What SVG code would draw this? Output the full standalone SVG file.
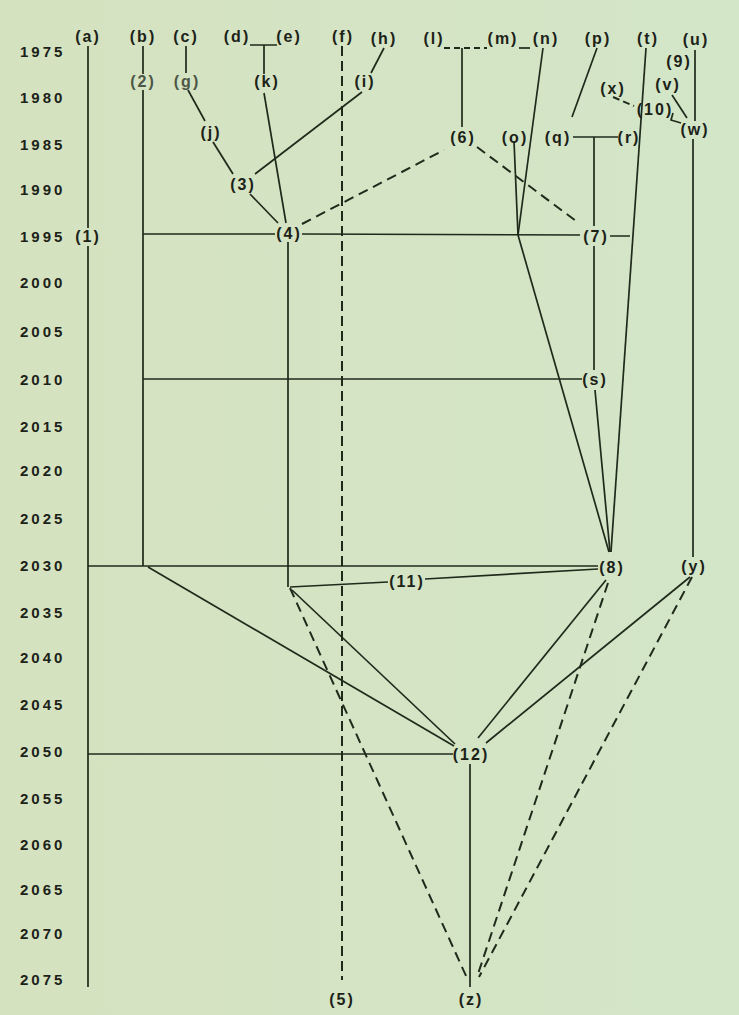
<svg xmlns="http://www.w3.org/2000/svg" width="739" height="1015" viewBox="0 0 739 1015">
<style>
.yr{font-family:"Liberation Sans",Arial,sans-serif;font-weight:bold;font-size:15px;letter-spacing:3px;fill:#1c2218}
.nd{font-family:"Liberation Sans",Arial,sans-serif;font-weight:bold;font-size:16px;letter-spacing:2px;fill:#1c2218;text-anchor:middle}
.gr{fill:#4c5646}
.ln{fill:none;stroke:#1f2a1b;stroke-width:1.7}
.ds{fill:none;stroke:#1f2a1b;stroke-width:2;stroke-dasharray:10 6}
.dv{fill:none;stroke:#1f2a1b;stroke-width:2;stroke-dasharray:10 5}
</style>
<defs>
<linearGradient id="bg" x1="0" y1="0" x2="1" y2="0">
<stop offset="0" stop-color="#d5e2c0"/>
<stop offset="1" stop-color="#d3e6c8"/>
</linearGradient>
</defs>
<rect width="739" height="1015" fill="url(#bg)"/>

<g id="years">
<text class="yr" x="20" y="57">1975</text>
<text class="yr" x="20" y="103">1980</text>
<text class="yr" x="20" y="150">1985</text>
<text class="yr" x="20" y="195">1990</text>
<text class="yr" x="20" y="242">1995</text>
<text class="yr" x="20" y="288">2000</text>
<text class="yr" x="20" y="337">2005</text>
<text class="yr" x="20" y="385">2010</text>
<text class="yr" x="20" y="432">2015</text>
<text class="yr" x="20" y="476">2020</text>
<text class="yr" x="20" y="524">2025</text>
<text class="yr" x="20" y="571">2030</text>
<text class="yr" x="20" y="618">2035</text>
<text class="yr" x="20" y="663">2040</text>
<text class="yr" x="20" y="710">2045</text>
<text class="yr" x="20" y="757">2050</text>
<text class="yr" x="20" y="804">2055</text>
<text class="yr" x="20" y="850">2060</text>
<text class="yr" x="20" y="895">2065</text>
<text class="yr" x="20" y="939">2070</text>
<text class="yr" x="20" y="985">2075</text>
</g>

<g id="connectors">
<path class="ln" d="M88 46V228M88 246V987"/>
<path class="ln" d="M143 46V74M143 90V566"/>
<path class="ln" d="M186 46V73"/>
<path class="ln" d="M188 90L205 121"/>
<path class="ln" d="M213 142L233 174"/>
<path class="ln" d="M255 174L362 92"/>
<path class="ln" d="M384 48L371 73"/>
<path class="ln" d="M250 45H277M264 45V74"/>
<path class="ln" d="M264 93L286 223"/>
<path class="ln" d="M250 194L278 223"/>
<path class="ln" d="M143 234H275M302 234L580 235M610 236H630"/>
<path class="ln" d="M288 242V587"/>
<path class="ln" d="M519 48H530"/>
<path class="ln" d="M462 48V127"/>
<path class="ln" d="M543 48L518 235"/>
<path class="ln" d="M514 141L518 235"/>
<path class="ln" d="M518 235L609 552"/>
<path class="ln" d="M597 48L572 117"/>
<path class="ln" d="M573 137H618"/>
<path class="ln" d="M594 137V226"/>
<path class="ln" d="M594 246V370"/>
<path class="ln" d="M595 390L610 552"/>
<path class="ln" d="M646 48L611 552"/>
<path class="ln" d="M695 50V121"/>
<path class="ln" d="M672 95L687 118"/>
<path class="ln" d="M673 113L671 120L681 123"/>
<path class="ln" d="M693 139V557"/>
<path class="ln" d="M143 379H582"/>
<path class="ln" d="M88 566H598"/>
<path class="ln" d="M290 587L388 582"/>
<path class="ln" d="M425 579L598 569"/>
<path class="ln" d="M148 567L454 746"/>
<path class="ln" d="M292 590L455 744"/>
<path class="ln" d="M606 580L478 738"/>
<path class="ln" d="M690 577L486 743"/>
<path class="ln" d="M88 754H453"/>
<path class="ln" d="M470 764V987"/>
<path class="dv" d="M342 46V980"/>
<path class="ds" d="M444 48H487" style="stroke-dasharray:6 4"/>
<path class="ds" d="M302 224L444 150"/>
<path class="ds" d="M477 147L576 221"/>
<path class="ds" d="M613 97L634 106" style="stroke-dasharray:7 4"/>
<path class="ds" d="M290 588L467 978"/>
<path class="ds" d="M608 583L477 977"/>
<path class="ds" d="M692 577L479 977"/>
</g>

<g id="node-a"><text class="nd" x="88" y="42">(a)</text></g>
<g id="node-b"><text class="nd" x="143" y="42">(b)</text></g>
<g id="node-c"><text class="nd" x="186" y="42">(c)</text></g>
<g id="node-d"><text class="nd" x="237" y="42">(d)</text></g>
<g id="node-e"><text class="nd" x="289" y="42">(e)</text></g>
<g id="node-f"><text class="nd" x="343" y="42">(f)</text></g>
<g id="node-h"><text class="nd" x="384" y="44">(h)</text></g>
<g id="node-l"><text class="nd" x="434" y="44">(l)</text></g>
<g id="node-m"><text class="nd" x="503" y="44">(m)</text></g>
<g id="node-n"><text class="nd" x="546" y="44">(n)</text></g>
<g id="node-p"><text class="nd" x="598" y="44">(p)</text></g>
<g id="node-t"><text class="nd" x="648" y="44">(t)</text></g>
<g id="node-u"><text class="nd" x="696" y="45">(u)</text></g>
<g id="node-9"><text class="nd" x="679" y="67">(9)</text></g>
<g id="node-2"><text class="nd gr" x="143" y="87">(2)</text></g>
<g id="node-g"><text class="nd gr" x="187" y="87">(g)</text></g>
<g id="node-k"><text class="nd" x="267" y="87">(k)</text></g>
<g id="node-i"><text class="nd" x="365" y="87">(i)</text></g>
<g id="node-v"><text class="nd" x="668" y="90">(v)</text></g>
<g id="node-x"><text class="nd" x="613" y="94">(x)</text></g>
<g id="node-10"><text class="nd" x="655" y="115">(10)</text></g>
<g id="node-w"><text class="nd" x="695" y="135">(w)</text></g>
<g id="node-j"><text class="nd" x="211" y="138">(j)</text></g>
<g id="node-6"><text class="nd" x="463" y="143">(6)</text></g>
<g id="node-o"><text class="nd" x="515" y="143">(o)</text></g>
<g id="node-q"><text class="nd" x="558" y="143">(q)</text></g>
<g id="node-r"><text class="nd" x="629" y="143">(r)</text></g>
<g id="node-3"><text class="nd" x="243" y="190">(3)</text></g>
<g id="node-1"><text class="nd" x="88" y="242">(1)</text></g>
<g id="node-4"><text class="nd" x="289" y="239">(4)</text></g>
<g id="node-7"><text class="nd" x="596" y="242">(7)</text></g>
<g id="node-s"><text class="nd" x="595" y="385">(s)</text></g>
<g id="node-8"><text class="nd" x="612" y="573">(8)</text></g>
<g id="node-y"><text class="nd" x="694" y="572">(y)</text></g>
<g id="node-11"><text class="nd" x="407" y="587">(11)</text></g>
<g id="node-12"><text class="nd" x="471" y="760">(12)</text></g>
<g id="node-5"><text class="nd" x="342" y="1005">(5)</text></g>
<g id="node-z"><text class="nd" x="471" y="1005">(z)</text></g>
</svg>
